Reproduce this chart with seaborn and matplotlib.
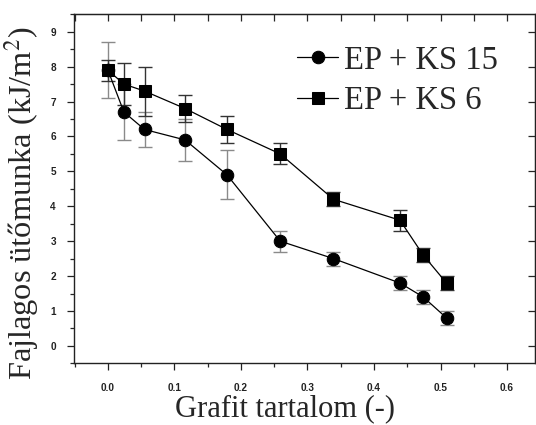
import numpy as np
import pandas as pd
import matplotlib
matplotlib.use("Agg")
import matplotlib.pyplot as plt
import seaborn as sns
from matplotlib.ticker import MultipleLocator

# ---- data ----
x_ks15 = [0.0, 0.024, 0.055, 0.116, 0.179, 0.259, 0.339, 0.439, 0.474, 0.509]
y_ks15 = [7.9, 6.7, 6.2, 5.9, 4.9, 3.0, 2.5, 1.8, 1.4, 0.8]
e_ks15 = [0.8, 0.8, 0.5, 0.6, 0.7, 0.3, 0.2, 0.2, 0.2, 0.2]

x_ks6 = [0.0, 0.024, 0.055, 0.116, 0.179, 0.259, 0.339, 0.439, 0.474, 0.509]
y_ks6 = [7.9, 7.5, 7.3, 6.8, 6.2, 5.5, 4.2, 3.6, 2.6, 1.8]
e_ks6 = [0.3, 0.6, 0.7, 0.4, 0.4, 0.3, 0.2, 0.3, 0.2, 0.2]

labels = ["EP + KS 15", "EP + KS 6"]
x_ticks = [0.0, 0.1, 0.2, 0.3, 0.4, 0.5, 0.6]
y_ticks = [0, 1, 2, 3, 4, 5, 6, 7, 8, 9]

df = pd.concat([
    pd.DataFrame({"x": x_ks15, "y": y_ks15, "s": labels[0]}),
    pd.DataFrame({"x": x_ks6, "y": y_ks6, "s": labels[1]}),
])

sns.set_style("ticks")
plt.rcParams["font.family"] = ["Liberation Serif", "DejaVu Serif"]
plt.rcParams["mathtext.fontset"] = "stix"

fig = plt.figure(figsize=(5.36, 4.25), dpi=100)
ax = fig.add_axes([74/536, 1-363.3/425, (535-74)/536, (363.3-14.3)/425])

# error bars
ax.errorbar(x_ks15, y_ks15, yerr=e_ks15, fmt="none", ecolor="#8a8a8a",
            elinewidth=1.0, capsize=5, capthick=1.0, zorder=2)
ax.errorbar(x_ks6, y_ks6, yerr=e_ks6, fmt="none", ecolor="#333333",
            elinewidth=1.0, capsize=5, capthick=1.0, zorder=2)

sns.lineplot(data=df, x="x", y="y", hue="s", style="s",
             markers={labels[0]: "o", labels[1]: "s"}, dashes=False,
             palette={labels[0]: "black", labels[1]: "black"},
             markersize=9, markeredgecolor="black", linewidth=0.9,
             sort=False, ax=ax, zorder=3)

ax.set_xlim(-0.051, 0.642)
ax.set_ylim(-0.5, 9.5)
ax.set_xticks(x_ticks)
ax.set_yticks(y_ticks)
ax.xaxis.set_minor_locator(MultipleLocator(0.05))
ax.yaxis.set_minor_locator(MultipleLocator(0.5))
ax.set_xticklabels([f"{v:.1f}" for v in x_ticks])
ax.set_yticklabels([str(v) for v in y_ticks])
for lab in ax.get_xticklabels() + ax.get_yticklabels():
    lab.set_fontfamily("Liberation Sans")
    lab.set_fontweight("bold")
    lab.set_fontsize(7.2)
    lab.set_color("#222222")
ax.tick_params(which="major", direction="out", length=5, width=0.9, pad=9, colors="#222222")
ax.tick_params(which="minor", direction="out", length=3, width=0.9)
ax.tick_params(axis="y", which="major", pad=8)

for sp in ax.spines.values():
    sp.set_linewidth(1.0)
    sp.set_color("#222222")
    sp.set_visible(True)

secx = ax.secondary_xaxis("top")
secx.set_xticks(np.arange(-0.05, 0.66, 0.05))
secx.tick_params(direction="in", length=5, width=0.9, labeltop=False)
secy = ax.secondary_yaxis("right")
secy.set_yticks(y_ticks)
secy.tick_params(direction="in", length=5, width=0.9, labelright=False)

ax.set_xlabel("Grafit tartalom (-)", fontsize=22)
ax.set_ylabel("Fajlagos ütőmunka (kJ/m$^2$)", fontsize=23.3)
ax.xaxis.set_label_coords(0.458, -0.088)
ax.yaxis.set_label_coords(-0.072, 0.46)

handles, labs = ax.get_legend_handles_labels()
ax.legend(handles, labs, loc="upper left", bbox_to_anchor=(0.484, 0.912),
          frameon=False, fontsize=23.5, handlelength=1.25, handletextpad=0.2,
          labelspacing=0.32, borderpad=0, borderaxespad=0)

fig.savefig("out.png", dpi=100)
